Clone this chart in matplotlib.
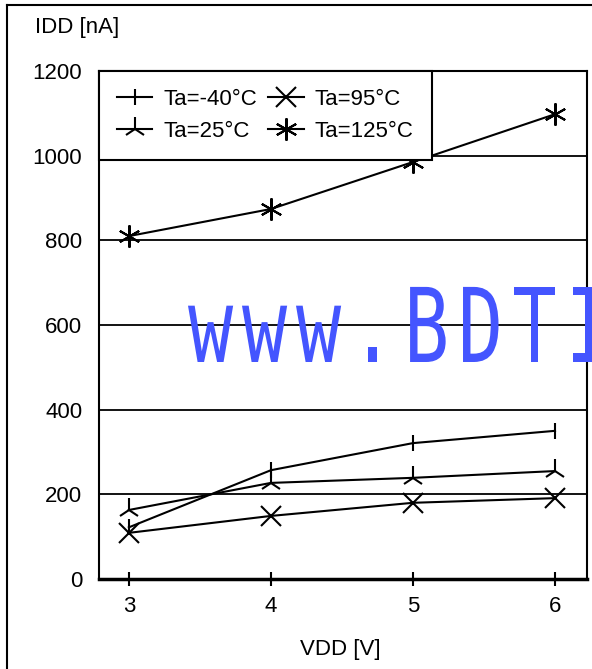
import matplotlib.pyplot as plt
from matplotlib.textpath import TextPath
from matplotlib.patches import PathPatch
from matplotlib.font_manager import FontProperties
from matplotlib.transforms import Affine2D
from matplotlib.lines import Line2D

plt.rcParams['font.family'] = ['Liberation Sans', 'DejaVu Sans']

# supply voltage [V]
vdd = [3, 4, 5, 6]
# supply current [nA] per ambient temperature
idd_m40 = [122, 257, 321, 350]
idd_25 = [163, 227, 239, 255]
idd_95 = [109, 149, 180, 191]
idd_125 = [810, 874, 985, 1098]
labels = ['Ta=-40°C', 'Ta=25°C', 'Ta=95°C', 'Ta=125°C']
yticks = [0, 200, 400, 600, 800, 1000, 1200]
xticks = [3, 4, 5, 6]

fig = plt.figure(figsize=(5.92, 6.69), dpi=100)
ax = fig.add_axes([99/592, 90/669, 488/592, 508/669])

series = [idd_m40, idd_25, idd_95, idd_125]
markers = ['|', '2', 'x', (6, 2, 0)]
sizes = [12, 17, 14, 16]
for ys, m, ms, lab in zip(series, markers, sizes, labels):
    ax.plot(vdd, ys, color='black', lw=1.5, marker=m, ms=ms, mew=1.5,
            label=lab, zorder=3)

ax.set_xlim(2.79, 6.225)
ax.set_ylim(0, 1200)
ax.set_yticks(yticks)
ax.set_xticks(xticks)
ax.yaxis.grid(True, color='black', lw=1.3)
ax.tick_params(axis='y', length=0, pad=12, labelsize=16)
ax.tick_params(axis='x', direction='inout', length=10, width=1.5,
               pad=7, labelsize=16)
for s in ['left', 'right', 'top']:
    ax.spines[s].set_linewidth(1.5)
ax.spines['bottom'].set_linewidth(2.5)

leg = ax.legend(loc='upper left', bbox_to_anchor=(0, 1), borderaxespad=0,
                ncol=2, fontsize=16, handlelength=1.6, handletextpad=0.5,
                columnspacing=0.5, fancybox=False, framealpha=1,
                edgecolor='black', borderpad=0.8, labelspacing=0.5)
leg.get_frame().set_linewidth(1.5)

fig.text(35/592, 1 - 27/669, 'IDD [nA]', fontsize=16, va='center', ha='left')
fig.text(340/592, 1 - 650/669, 'VDD [V]', fontsize=16, va='center', ha='center')

# outer frame (left and top edges)
fig.add_artist(Line2D([7/592, 7/592], [0, 1 - 5/669], transform=fig.transFigure,
                      color='black', lw=1.5))
fig.add_artist(Line2D([7/592, 1], [1 - 5/669, 1 - 5/669], transform=fig.transFigure,
                      color='black', lw=1.5))

# watermark, one narrow glyph per fixed-width cell
wm_font = FontProperties(family='DejaVu Sans Mono')
for i, ch in enumerate('www.BDTIC.com'):
    tp = TextPath((0, 0), ch, size=100, prop=wm_font)
    wm = PathPatch(tp, transform=Affine2D().scale(0.75, 1.03).translate(188 + i * 54, 669 - 362),
                   color='#4455FF', lw=0, zorder=10)
    fig.add_artist(wm)

fig.savefig('out.png', dpi=100)
